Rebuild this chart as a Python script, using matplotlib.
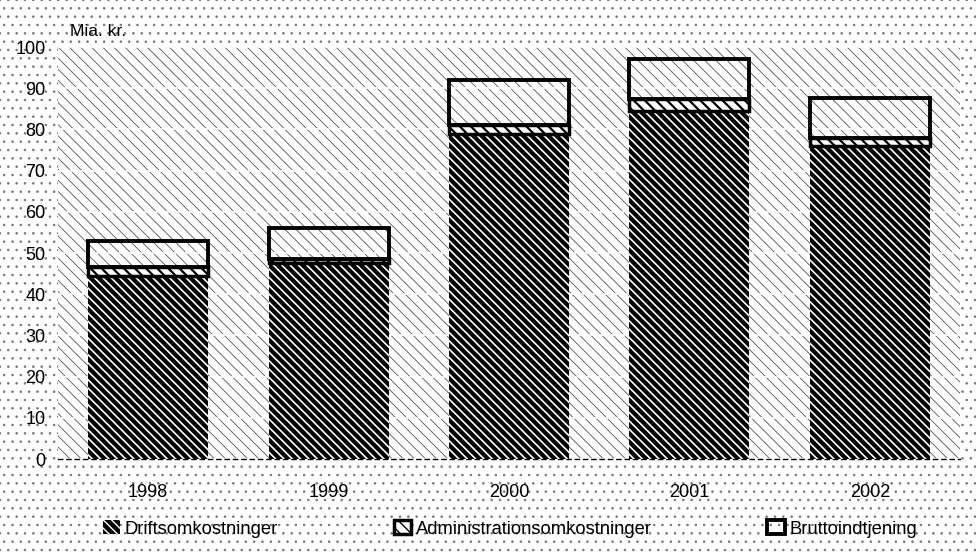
import numpy as np
import matplotlib
matplotlib.use("Agg")
import matplotlib.pyplot as plt

years = ["1998", "1999", "2000", "2001", "2002"]
drift = [44.5, 47.5, 79.0, 84.5, 76.0]
admin = [2.0, 1.0, 2.0, 3.0, 2.0]
brutto = [6.5, 7.5, 11.0, 9.5, 9.5]
labels = ["Driftsomkostninger", "Administrationsomkostninger", "Bruttoindtjening"]

plt.rcParams["font.family"] = ["Liberation Sans Narrow", "Liberation Sans", "DejaVu Sans"]
plt.rcParams["font.size"] = 12.5


def hlw(p, w):
    if hasattr(p, "set_hatch_linewidth"):
        p.set_hatch_linewidth(w)


fig = plt.figure(figsize=(9.76, 5.54), dpi=100)
fig.patch.set_facecolor("white")
fig.patch.set_edgecolor("#777777")
fig.patch.set_linewidth(0)
fig.patch.set_hatch("..")
hlw(fig.patch, 0.6)

ax = fig.add_axes([58 / 976, 1 - 459 / 554, 902 / 976, 412 / 554])
ax.patch.set_facecolor("white")
ax.patch.set_edgecolor("#555555")
ax.patch.set_linewidth(0)
ax.patch.set_hatch("\\\\\\")
hlw(ax.patch, 0.6)

x = np.arange(len(years))
w = 0.665
d = np.array(drift); a = np.array(admin); b = np.array(brutto)

bd = ax.bar(x, d, w, color="black", edgecolor="white", lw=0, hatch="\\\\\\\\", label=labels[0], zorder=3)
for p in bd:
    hlw(p, 1.2)
ba = ax.bar(x, a, w, bottom=d, color="white", edgecolor="black", lw=2.5, hatch="\\\\\\", label=labels[1], zorder=3)
for p in ba:
    hlw(p, 1.6)
bb = ax.bar(x, b, w, bottom=d + a, facecolor="none", edgecolor="black", lw=2.8, label=labels[2], zorder=3)

ax.set_xlim(-0.5, 4.5)
ax.set_ylim(0, 100)
ax.set_yticks(range(0, 101, 10))
ax.set_xticks(x)
ax.set_xticklabels(years)
ax.yaxis.grid(True, color="white", lw=1.2, zorder=1)
ax.set_axisbelow(True)
for s in ("left", "right", "top"):
    ax.spines[s].set_visible(False)
ax.spines["bottom"].set_linestyle((0, (3, 3)))
ax.spines["bottom"].set_linewidth(1)
ax.tick_params(length=0, labelsize=13)
ax.tick_params(axis="y", pad=9)
ax.tick_params(axis="x", pad=18)

fig.text(70 / 976, 1 - 31 / 554, "Mia. kr.", ha="left", va="center", fontsize=12.5)

leg = fig.legend(handles=[bd, ba, bb], labels=labels, loc="center left",
                 bbox_to_anchor=(90 / 976, 1 - 529 / 554), ncol=3, frameon=False,
                 handlelength=0.95, handleheight=0.75, handletextpad=0.25,
                 columnspacing=6.3, fontsize=13.2, borderpad=0.2)

fig.savefig("out.png", dpi=100)
